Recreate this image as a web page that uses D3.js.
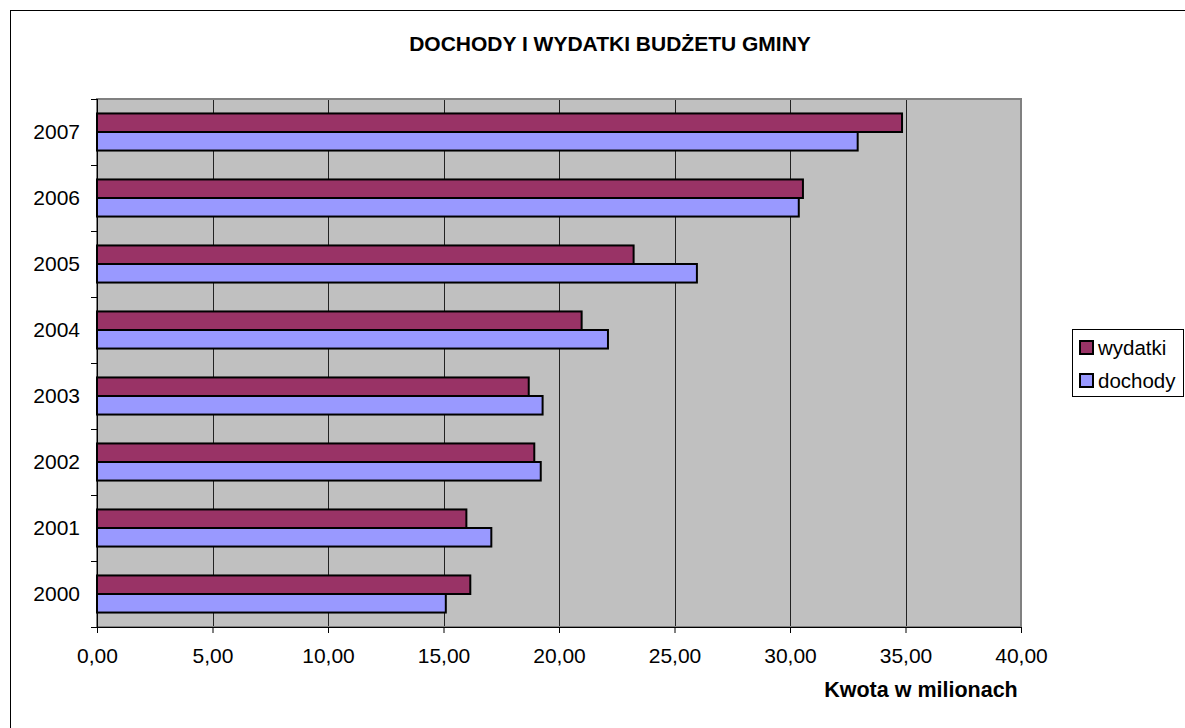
<!DOCTYPE html>
<html>
<head>
<meta charset="utf-8">
<script src="https://cdn.jsdelivr.net/npm/d3@7"></script>
<style>
  body { margin: 0; background: #fff; }
  svg { display: block; font-family: "Liberation Sans", Arial, sans-serif; }
</style>
</head>
<body>
<div id="wrapper"></div>
<script>
// dane z wykresu (w milionach)
const years = ["2000", "2001", "2002", "2003", "2004", "2005", "2006", "2007"];
const seriesNames = ["wydatki", "dochody"];
const wydatki = [16.16, 15.99, 18.93, 18.69, 20.98, 23.23, 30.56, 34.85];
const dochody = [15.10, 17.07, 19.21, 19.29, 22.12, 25.97, 30.38, 32.93];
const xTicks = [0, 5, 10, 15, 20, 25, 30, 35, 40];
const colors = { wydatki: "#993366", dochody: "#9999FF" };

function buildChart() {
    const dimension = {
        width: 1185,
        height: 728,
        margin: { top: 99, left: 97, bottom: 101, right: 164 }
    };
    dimension.boundedWidth = dimension.width - dimension.margin.left - dimension.margin.right;
    dimension.boundedHeight = dimension.height - dimension.margin.top - dimension.margin.bottom;

    const svg = d3.select("#wrapper").append("svg")
        .attr("width", dimension.width)
        .attr("height", dimension.height);

    // ramka wykresu
    svg.append("rect")
        .attr("x", 10.5).attr("y", 10.5)
        .attr("width", dimension.width + 20).attr("height", dimension.height + 20)
        .attr("fill", "none").attr("stroke", "#000");

    svg.append("text")
        .attr("x", 610).attr("y", 51)
        .attr("text-anchor", "middle")
        .attr("font-weight", "bold").attr("font-size", 21)
        .text("DOCHODY I WYDATKI BUDŻETU GMINY");

    const bounded = svg.append("g")
        .attr("transform", `translate(${dimension.margin.left}, ${dimension.margin.top})`);

    const xScaler = d3.scaleLinear()
        .domain([0, 40])
        .range([0, dimension.boundedWidth]);

    const yScaler = d3.scaleBand()
        .domain(years.slice().reverse())
        .range([0, dimension.boundedHeight]);

    const subScaler = d3.scaleBand()
        .domain(seriesNames)
        .range([0, yScaler.bandwidth()])
        .paddingOuter(0.78);

    bounded.append("rect")
        .attr("width", dimension.boundedWidth)
        .attr("height", dimension.boundedHeight)
        .attr("fill", "#C0C0C0");

    // linie siatki
    bounded.append("g")
        .selectAll("line")
        .data(xTicks.slice(1, -1))
        .join("line")
        .attr("x1", d => Math.round(xScaler(d)) + 0.5)
        .attr("x2", d => Math.round(xScaler(d)) + 0.5)
        .attr("y1", 0).attr("y2", dimension.boundedHeight)
        .attr("stroke", "#222");

    bounded.append("rect")
        .attr("width", dimension.boundedWidth)
        .attr("height", dimension.boundedHeight)
        .attr("fill", "none")
        .attr("stroke", "#808080").attr("stroke-width", 2);

    const rows = years.map((y, i) => ({ year: y, wydatki: wydatki[i], dochody: dochody[i] }));

    const groups = bounded.append("g")
        .selectAll("g")
        .data(rows)
        .join("g")
        .attr("transform", d => `translate(0, ${yScaler(d.year)})`);

    groups.selectAll("rect")
        .data(d => seriesNames.map(s => ({ key: s, value: d[s] })))
        .join("rect")
        .attr("x", 0)
        .attr("y", d => subScaler(d.key))
        .attr("width", d => xScaler(d.value))
        .attr("height", subScaler.bandwidth())
        .attr("fill", d => colors[d.key])
        .attr("stroke", "#000").attr("stroke-width", 2);

    // osie
    const Ax_x = d3.axisBottom(xScaler)
        .tickValues(xTicks)
        .tickSize(6)
        .tickPadding(15)
        .tickFormat(d => d3.format(".2f")(d).replace(".", ","));
    const gx = bounded.append("g")
        .attr("transform", `translate(0, ${dimension.boundedHeight})`)
        .call(Ax_x);
    gx.select(".domain").attr("stroke", "#000");
    gx.selectAll("text").attr("font-size", 21).attr("fill", "#000")
        .attr("font-family", "Liberation Sans, Arial, sans-serif");

    const Ax_y = d3.axisLeft(yScaler).tickSize(0).tickPadding(17);
    const gy = bounded.append("g").call(Ax_y);
    gy.select(".domain").remove();
    gy.selectAll("text").attr("font-size", 21).attr("fill", "#000")
        .attr("font-family", "Liberation Sans, Arial, sans-serif");

    const edges = yScaler.domain().map(d => yScaler(d)).concat([dimension.boundedHeight]);
    bounded.append("g")
        .selectAll("line")
        .data(edges)
        .join("line")
        .attr("x1", -6).attr("x2", 0)
        .attr("y1", d => Math.round(d) + 0.5).attr("y2", d => Math.round(d) + 0.5)
        .attr("stroke", "#000");
    bounded.append("line")
        .attr("x1", 0.5).attr("x2", 0.5)
        .attr("y1", 0).attr("y2", dimension.boundedHeight)
        .attr("stroke", "#000");

    svg.append("text")
        .attr("x", 921).attr("y", 697)
        .attr("text-anchor", "middle")
        .attr("font-weight", "bold").attr("font-size", 21.5)
        .text("Kwota w milionach");

    // legenda
    const legend = svg.append("g").attr("transform", "translate(1072, 329)");
    legend.append("rect")
        .attr("x", 0.5).attr("y", 0.5)
        .attr("width", 111).attr("height", 67)
        .attr("fill", "#fff").attr("stroke", "#000");
    const items = legend.selectAll("g.item")
        .data(seriesNames)
        .join("g")
        .attr("class", "item")
        .attr("transform", (d, i) => `translate(8, ${19 + i * 33})`);
    items.append("rect")
        .attr("x", 0).attr("y", -7)
        .attr("width", 13).attr("height", 13)
        .attr("fill", d => colors[d])
        .attr("stroke", "#000").attr("stroke-width", 2);
    items.append("text")
        .attr("x", 18).attr("y", 7)
        .attr("font-size", 20.5)
        .text(d => d);
}

buildChart();
</script>
</body>
</html>
